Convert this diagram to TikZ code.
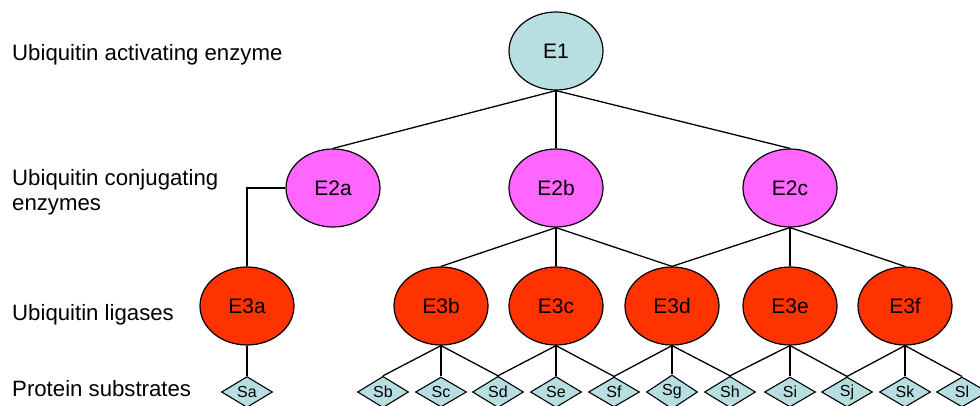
\documentclass[tikz,border=0pt]{standalone}
\usepackage{fontspec}
\setmainfont{Liberation Sans}
\usetikzlibrary{shapes.geometric}
\definecolor{lblue}{RGB}{183,222,225}
\definecolor{mag}{RGB}{255,102,255}
\definecolor{ored}{RGB}{255,51,0}
\begin{document}
\begin{tikzpicture}[x=1pt,y=-1pt,
  enz/.style={ellipse,draw=black,line width=1.2pt,minimum width=94pt,minimum height=78pt,inner sep=0pt,font=\fontsize{21}{25}\selectfont},
  eone/.style={enz,fill=lblue},
  etwo/.style={enz,fill=mag},
  ethree/.style={enz,fill=ored},
  sub/.style={diamond,draw=black,line width=1.1pt,fill=lblue,minimum width=51pt,minimum height=30pt,inner sep=0pt,font=\fontsize{16}{18}\selectfont},
  lvl/.style={anchor=base west,inner sep=0pt,font=\fontsize{22.2}{26}\selectfont},
  conn/.style={draw=black,line width=1.3pt}]
\useasboundingbox (0,0) rectangle (980,406);
\node[lvl] (L1) at (12,60.5) {Ubiquitin activating enzyme};
\node[lvl] (L2a) at (12,186) {Ubiquitin conjugating};
\node[lvl] (L2b) at (12,211) {enzymes};
\node[lvl] (L3) at (12,320.5) {Ubiquitin ligases};
\node[lvl] (L4) at (12,396) {Protein substrates};

\node[eone] (E1) at (556,51) {E1};
\node[etwo] (E2a) at (333,188) {E2a};
\node[etwo] (E2b) at (556,188) {E2b};
\node[etwo] (E2c) at (790,188) {E2c};
\node[ethree] (E3a) at (247,306) {E3a};
\node[ethree] (E3b) at (441,306) {E3b};
\node[ethree] (E3c) at (556,306) {E3c};
\node[ethree] (E3d) at (672,306) {E3d};
\node[ethree] (E3e) at (790,306) {E3e};
\node[ethree] (E3f) at (905,306) {E3f};

\foreach \n/\x in {Sa/247,Sb/383,Sc/441,Sd/498,Se/556,Sf/614,Sg/672,Sh/730,Si/790,Sj/847,Sk/905,Sl/962}
  \node[sub] (\n) at (\x,392) {\n};

\draw[conn] (E1.south) -- (E2a.north);
\draw[conn] (E1.south) -- (E2b.north);
\draw[conn] (E1.south) -- (E2c.north);
\draw[conn] (E2a.west) -| (E3a.north);
\draw[conn] (E2b.south) -- (E3b.north);
\draw[conn] (E2b.south) -- (E3c.north);
\draw[conn] (E2b.south) -- (E3d.north);
\draw[conn] (E2c.south) -- (E3d.north);
\draw[conn] (E2c.south) -- (E3e.north);
\draw[conn] (E2c.south) -- (E3f.north);
\draw[conn] (E3a.south) -- (Sa.north);
\foreach \e/\a/\b/\c in {E3b/Sb/Sc/Sd,E3c/Sd/Se/Sf,E3d/Sf/Sg/Sh,E3e/Sh/Si/Sj,E3f/Sj/Sk/Sl}{
  \draw[conn] (\e.south) -- (\a.north);
  \draw[conn] (\e.south) -- (\b.north);
  \draw[conn] (\e.south) -- (\c.north);
}
\end{tikzpicture}
\end{document}
